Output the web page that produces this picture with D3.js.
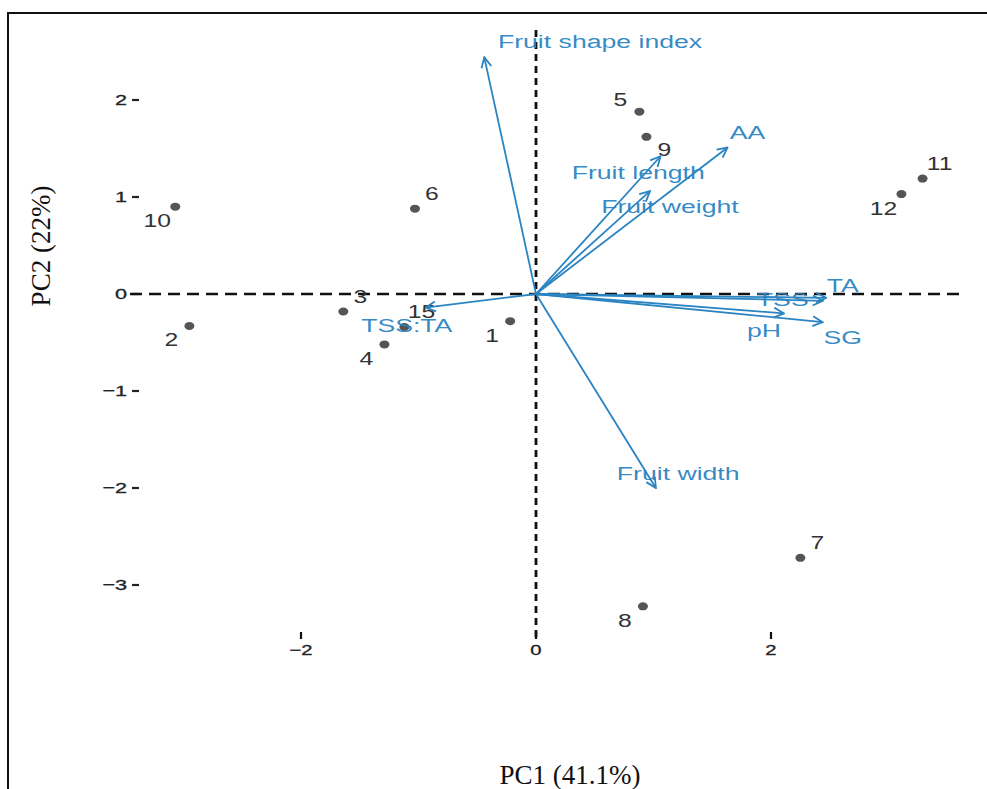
<!DOCTYPE html>
<html>
<head>
<meta charset="utf-8">
<script src="https://cdn.jsdelivr.net/npm/d3@7"></script>
<style>
  body { margin: 0; background: #fff; }
  svg { display: block; }
</style>
</head>
<body>
<div id="chart"></div>
<script>
// Scores of the samples (PC1, PC2)
const sampleIds = ["1", "2", "3", "4", "5", "6", "7", "8", "9", "10", "11", "12", "15"];
const pc1Scores = [-0.22, -2.95, -1.64, -1.29, 0.88, -1.03, 2.25, 0.91, 0.94, -3.07, 3.29, 3.11, -1.12];
const pc2Scores = [-0.28, -0.33, -0.18, -0.52, 1.88, 0.88, -2.72, -3.22, 1.62, 0.90, 1.19, 1.03, -0.34];
const labelSide = ["ll", "ll", "ur", "ll", "ul", "ur", "ur", "ll", "lr", "ll", "ur", "ll", "ur"];

// Variable loadings (arrow tips) and where their names sit
const variables = ["Fruit shape index", "AA", "Fruit length", "Fruit weight", "TSS:TA", "TA", "TSS", "pH", "SG", "Fruit width"];
const loadPC1 = [-0.44, 1.63, 1.06, 0.97, -0.94, 2.47, 2.44, 2.11, 2.44, 1.02];
const loadPC2 = [2.44, 1.51, 1.42, 1.06, -0.14, -0.04, -0.07, -0.20, -0.29, -2.00];
const namePC1 = [0.545, 1.80, 0.87, 1.14, -1.10, 2.61, 2.10, 1.94, 2.61, 1.21];
const namePC2 = [2.60, 1.66, 1.25, 0.90, -0.33, 0.09, -0.06, -0.38, -0.45, -1.85];

const xTicks = [-2, 0, 2];
const yTicks = [-3, -2, -1, 0, 1, 2];

const width = 987, height = 789;
const blue = "#2a84c2";

const svg = d3.select("#chart").append("svg")
    .attr("width", width)
    .attr("height", height);

// frame
svg.append("path")
    .attr("d", `M8,${height} L8,13 L${width},13`)
    .attr("fill", "none")
    .attr("stroke", "#111")
    .attr("stroke-width", 2);

const x = d3.scaleLinear().domain([-2, 2]).range([301, 771]);
const y = d3.scaleLinear().domain([-3, 2]).range([585, 100]);

const fmt = d => d < 0 ? "\u2212" + Math.abs(d) : String(d);

// y ticks
const yAxis = svg.append("g");
yTicks.forEach(t => {
    yAxis.append("line")
        .attr("x1", 132).attr("x2", 139)
        .attr("y1", y(t)).attr("y2", y(t))
        .attr("stroke", "#222").attr("stroke-width", 2.2);
    yAxis.append("text")
        .attr("transform", `translate(127,${y(t)}) scale(1.4,1)`)
        .attr("text-anchor", "end")
        .attr("dominant-baseline", "central")
        .attr("font-family", "Liberation Sans, Arial, sans-serif")
        .attr("font-size", 15.5)
        .attr("fill", "#222")
        .attr("stroke", "#222").attr("stroke-width", 0.3)
        .text(fmt(t));
});

// x ticks
const xAxis = svg.append("g");
xTicks.forEach(t => {
    xAxis.append("line")
        .attr("x1", x(t)).attr("x2", x(t))
        .attr("y1", 632).attr("y2", 639)
        .attr("stroke", "#111").attr("stroke-width", 2.2);
    xAxis.append("text")
        .attr("transform", `translate(${x(t)},650) scale(1.35,1)`)
        .attr("text-anchor", "middle")
        .attr("dominant-baseline", "central")
        .attr("font-family", "Liberation Sans, Arial, sans-serif")
        .attr("font-size", 15)
        .attr("fill", "#222")
        .attr("stroke", "#222").attr("stroke-width", 0.3)
        .text(fmt(t));
});

// reference lines at 0
svg.append("line")
    .attr("x1", 130).attr("x2", 963)
    .attr("y1", y(0)).attr("y2", y(0))
    .attr("stroke", "#111").attr("stroke-width", 2.6)
    .attr("stroke-dasharray", "12,7");
svg.append("line")
    .attr("x1", x(0)).attr("x2", x(0))
    .attr("y1", 30).attr("y2", 637)
    .attr("stroke", "#111").attr("stroke-width", 2.8)
    .attr("stroke-dasharray", "7,5");

// axis titles
svg.append("text")
    .attr("x", 570).attr("y", 784)
    .attr("text-anchor", "middle")
    .attr("font-family", "Liberation Serif, Times New Roman, serif")
    .attr("font-size", 27)
    .attr("fill", "#111")
    .text("PC1 (41.1%)");
svg.append("text")
    .attr("transform", "translate(50,246) rotate(-90)")
    .attr("text-anchor", "middle")
    .attr("font-family", "Liberation Serif, Times New Roman, serif")
    .attr("font-size", 27)
    .attr("fill", "#111")
    .text("PC2 (22%)");

// sample points
const samples = sampleIds.map((id, i) => ({ id, pc1: pc1Scores[i], pc2: pc2Scores[i], side: labelSide[i] }));
const off = { ur: [17, -15], ll: [-18, 14], ul: [-19, -12], lr: [18, 13] };

svg.selectAll(".pt")
    .data(samples)
    .enter().append("ellipse")
    .attr("class", "pt")
    .attr("cx", d => x(d.pc1))
    .attr("cy", d => y(d.pc2))
    .attr("rx", 5).attr("ry", 4)
    .attr("fill", "#555");

svg.selectAll(".ptlab")
    .data(samples)
    .enter().append("text")
    .attr("class", "ptlab")
    .attr("transform", d => `translate(${x(d.pc1) + off[d.side][0]},${y(d.pc2) + off[d.side][1]}) scale(1.3,1)`)
    .attr("text-anchor", "middle")
    .attr("dominant-baseline", "central")
    .attr("font-family", "Liberation Sans, Arial, sans-serif")
    .attr("font-size", 19)
    .attr("fill", "#333")
    .text(d => d.id);

// loading arrows
svg.append("defs").append("marker")
    .attr("id", "head")
    .attr("markerUnits", "userSpaceOnUse")
    .attr("viewBox", "0 0 12 12")
    .attr("refX", 11).attr("refY", 6)
    .attr("markerWidth", 12).attr("markerHeight", 12)
    .attr("orient", "auto")
    .append("path")
    .attr("d", "M1,1 L11,6 L1,11")
    .attr("fill", "none")
    .attr("stroke", blue)
    .attr("stroke-width", 1.8);

const loads = variables.map((v, i) => ({ v, a: loadPC1[i], b: loadPC2[i], na: namePC1[i], nb: namePC2[i] }));

svg.selectAll(".arrow")
    .data(loads)
    .enter().append("line")
    .attr("class", "arrow")
    .attr("x1", x(0)).attr("y1", y(0))
    .attr("x2", d => x(d.a)).attr("y2", d => y(d.b))
    .attr("stroke", blue)
    .attr("stroke-width", 1.8)
    .attr("marker-end", "url(#head)");

svg.selectAll(".varlab")
    .data(loads)
    .enter().append("text")
    .attr("class", "varlab")
    .attr("transform", d => `translate(${x(d.na)},${y(d.nb)}) scale(1.48,1)`)
    .attr("text-anchor", "middle")
    .attr("dominant-baseline", "central")
    .attr("font-family", "Liberation Sans, Arial, sans-serif")
    .attr("font-size", 18)
    .attr("fill", blue)
    .attr("fill-opacity", 0.95)
    .text(d => d.v);
</script>
</body>
</html>
